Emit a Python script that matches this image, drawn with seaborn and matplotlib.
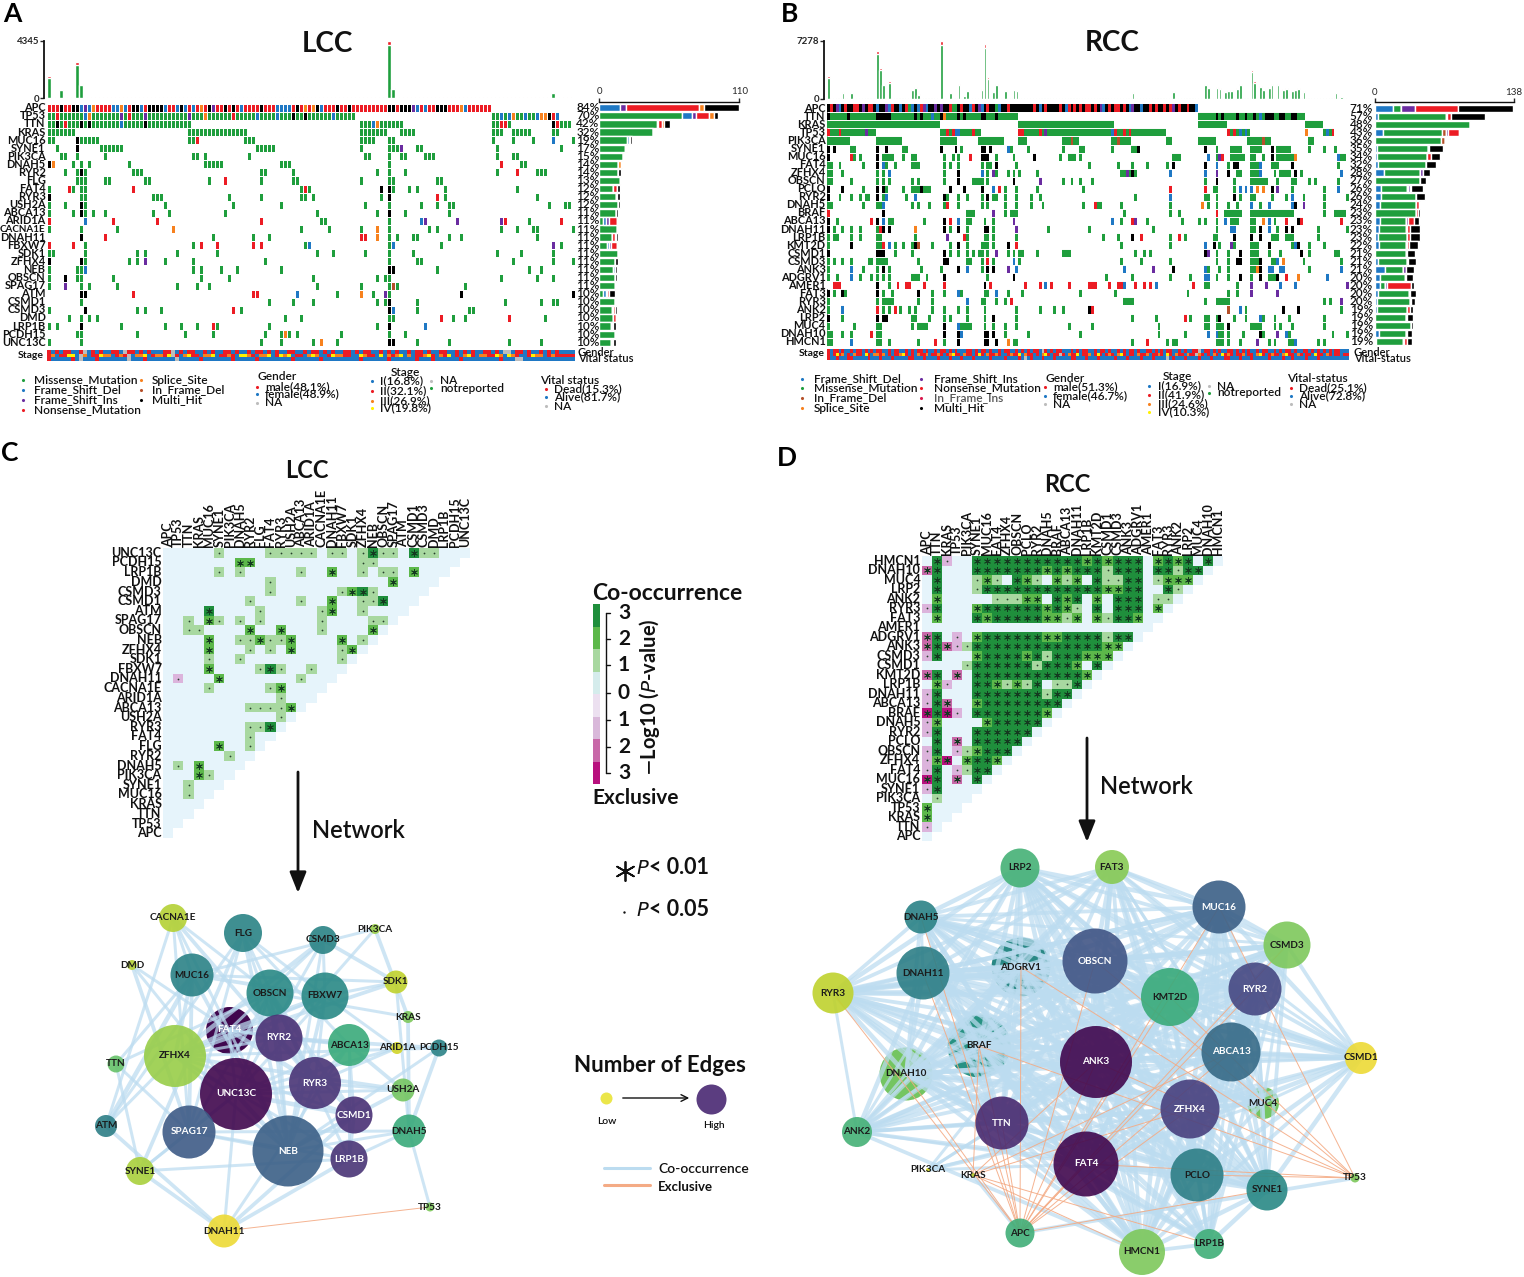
import re
import numpy as np
import seaborn as sns
import matplotlib
matplotlib.use('Agg')
import matplotlib.pyplot as plt
from matplotlib.colors import ListedColormap

sns.set_theme(style='white')
plt.rcParams['font.family'] = ['Lato', 'DejaVu Sans']

W, H = 1524, 1277

# ---- mutation matrices: tokens are col, col-col, colX or col=XYZ (m is default)
lcc_samples = 132
lcc_genes = ['APC', 'TP53', 'TTN', 'KRAS', 'MUC16', 'SYNE1', 'PIK3CA', 'DNAH5', 'RYR2', 'FLG', 'FAT4', 'RYR3',
             'USH2A', 'ABCA13', 'ARID1A', 'CACNA1E', 'DNAH11', 'FBXW7', 'SDK1', 'ZFHX4', 'NEB', 'OBSCN', 'SPAG17',
             'ATM', 'CSMD1', 'CSMD3', 'DMD', 'LRP1B', 'PCDH15', 'UNC13C']
lcc_rows = [
    '0-110n 0=nnnhnnhhdidsnnnnddsdnhhdnhhhhdnndhdndnsnhinnhnhndnnnnhnnnddddnhnsnshdnnnhnnh 77=nnnnnnnnhhnhhhidndnnhhhnnnsdnnnnnn',
    '0-76 2n 9d 10s 18i 20n 24i 35i 39s 46n 52d 57d 61h 64h 71d 111=mmdmdsmmdmmdsshnd',
    '0-35 2h 4n 8h 10h 18d 24h 78-88 81d 82s 111-115 113n 114n 126h 127n 128-130',
    '0-6 35-49 78-84 88-91 111-113 116-120 126-127',
    '0 1 7h 8-12 35 36 37n 49-51 78-81 85 86 111 116 121 126d 131',
    '2 7h 13-18 52-56 78 85-87 88i 92 93 112 128',
    '3 4 7 14 36 37 39 50 79 80 85 88 89 94-96 112 116 117',
    '0h 1s 6 8 10 20 39-43 58-60 85 113n 118 119',
    '4 7 8h 9 21-23 53 54 61 82 85 89 112 117n 122-124',
    '7-9 14 15 24 25 40 44n 53 61 62 78 85 86 97 98',
    '0 5n 6 8 9 21n 63 64n 65 83h 85h 86 90 92 99 117',
    '0h 8 9 26-28 45 53 63 64 66 83 85h 97n 99 122',
    '0 4 8h 9 29 46 58 79 85 93 97 100 101 125 129 130',
    '0 6 8h 9 11 14 26 30 44 67 82 85h 89 100',
    '0n 9d 16n 27n 53n 68 69 85 93d 94i 102i 113i 114n 120 128n',
    '0 8 17 31s 63 70 78 82s 85 95 97 113 117 121 122 131',
    '8h 14n 41 51 55 78n 79n 82s 85 87 91 92 100 103 122',
    '0n 6n 9 36 38n 42n 51n 53n 64 65d 85 86d 98 126i 128',
    '0 1 9 22 24 32 42 67 71 79 85 91 112 118 126',
    '0h 8h 9 20 22 24i 29 36 54 85 92 93 116 126 131',
    '0 7 8 9d 36 38 43 47 58 85h 86h 97 120 123',
    '0 4h 7 8 16 38 45 66 82 84 85 113 122 126',
    '0 4i 8 10 17 32 37 40 67 78 85 86f 87 104',
    '8h 9h 21n 51n 52n 62d 72 78s 81 84i 85 103h 131h',
    '8 55 61 66 82 84 85h 92 114 123 126 127',
    '0 9h 22 24 28 46n 48 85h 86d 92 105 106',
    '5 8 10 12 59 63 85 86 98n 101 104 115n 124',
    '0 2 8h 18 29 33 37 41n 42 55 82 85h 94d',
    '7 8 22 34 41 54 58 59s 60 62 73 85 89',
    '0 8 53 58 66 68s 72 85h 86h 92 100 115 123',
]
lcc_pct = [84, 70, 42, 32, 19, 17, 15, 14, 14, 13, 12, 12, 12, 11, 11, 11, 11, 11, 11, 11, 11, 11, 11, 10, 10, 10, 10, 10, 10, 10]

rcc_samples = 180
rcc_genes = ['APC', 'TTN', 'KRAS', 'TP53', 'PIK3CA', 'SYNE1', 'MUC16', 'FAT4', 'ZFHX4', 'OBSCN', 'PCLO', 'RYR2', 'DNAH5',
             'BRAF', 'ABCA13', 'DNAH11', 'LRP1B', 'KMT2D', 'CSMD1', 'CSMD3', 'ANK3', 'ADGRV1', 'AMER1', 'FAT3', 'RYR3',
             'ANK2', 'LRP2', 'MUC4', 'DNAH10', 'HMCN1']
rcc_rows = [
    '0-127h 0=hnhidhnhhnnhihnnhdhhidnhhdhnmdhdnidhhihihhnmmhnhhdnhidhnhhmdhhnhhhhhhhhnhdhnh 80=nhdnhnhnhnnhnhidhnhnnhnhdihhdhhnhnhhnhnihnhhnhhd',
    '0-65 0h 7h 17-21h 30h 32h 36d 39h 40s 45h 47h 53h 54h 58h 128-164 134h 136h 141h 144h 147h 149d 151h 152h 153h 156h 157h 160h 161h',
    '0-38 66-98 128-137 165-170',
    '0-16 0n 4n 13i 39-52 41n 43n 44d 45d 50n 66-116 66n 67n 73n 75i 98d 99n 102n 104n 138-145 138n 140n 142d 144d 165s 171-174 172d 174n',
    '0-7 17-25 39-44 52-60 66-68 81-86 84f 98-104 100f 117 118 128-133 145-152 150f 166 167',
    '0h 2h 8 9 17h 20h 26 27 39h 44h 46 53h 54h 56h 62d 63 69 81 87 88 98 105-107 107h 130h 134 139-142 146-149 153h 155-159 166 171 175',
    '0h 8n 9 11 17h 19 20-22 26 29 30 40 43 45 49n 53h 54h 55h 58 64 71h 80 83-85 87 119-121 131d 134 135i 136n 139-143 146 147 150 153h 155-160 161s 176d 177 178',
    '0 1 4 12 17h 19d 20 23 29-31 40 42 45 53 55 56 58h 65 90 100 105 110 117 119h 130h 134d 138 140h 141h 146-148 149d 153-155 160h 176',
    '0 1 5 17 19 21d 40 45h 53d 55 57i 58 62 64 66 72 101-106 103i 105h 118d 130d 134i 138h 141 142 146-149 149d 154 156-159 161h 163 177d',
    '0 1 8 17 19 21 29 31 40 45h 50-52 53 55 64h 73i 81 84 87 91 130 134h 140 146-151 155 160 161 166 168 176',
    '0h 5h 12 17h 19h 20 26 29-31 32h 33-35 42h 47h 53h 57d 59n 61 65 72 88 118n 130n 133 134 140 142d 144d 146d 148s 150s 153h 155i 160 171 176d',
    '0h 4 8 11 13 14 17h 19 20d 27 30d 40h 41 45 48 53 55h 57 58 61 65 70 73 106 118d 130 131 134 140h 142 146 147 153 158 160d 164 171 179 180',
    '0 1 12 17 18 19d 29 31 35 40 41n 45 53 55 61 65 70 74 88 92n 93 94 101 118 129s 131 134 138 141 146d 149 152d 160d 161h 164i 171',
    '0n 19h 48-50 57i 61 63-65 102 118 121 134n 137-142 146-160 171 175-178',
    '0h 3 15n 17h 19d 21 22 33 40h 42n 45d 48 49 54 57 64i 98d 101 105n 106i 110 122 128 130 134 137d 139-141 146 147 150s 152d 154 158n 162h 163n 177n',
    '0h 2 5 8 11 17 18n 19h 21h 30s 40h 42 45h 48 54h 55h 57 65i 76 90 112 134 139d 140d 146 147 149h 152d 155 158h 160h 169 179',
    '0 2 3 8 11 17 18 30 41i 47n 48 54 55 57 65 95 100 105h 108n 118 121n 123 133 134 140h 146h 149h 153-155 158-160 169',
    '0 8h 17 18 19n 21d 23 26 29 30h 31f 36 42 45h 48 53-55 57 62h 65n 101 118 130d 133h 135 139i 140 146-148 152h 160 161d 162h 166 171',
    '0h 17h 18h 19h 23 29 40h 42 45 48 50 52 53 55 58i 62 64 66 67 72 82 83 81 106 109 111 130h 131i 134 138 142h 146-148 152 156 163h 166 175 176',
    '0 2 5 8 14 15 17-20 31 40h 41h 48 49 53 55n 57 64d 66 101 108 118 134 138 141h 142h 146-149 149h 153 154 155d 157s 164 177',
    '0 8d 12 17 19h 21 32 39 45h 48d 53 55h 57h 62i 65d 102d 112i 119h 130d 131 135 138 146-149 148s 149h 152d 153d 156d 157d 166 177d',
    '0 3 8d 11 15 17 19 21 29-31 34 40h 55 64h 96 105 118 125 130d 131d 134 138 142h 146 149h 152-155 155h 158n 162s 172d',
    '2n 3n 4n 17h 21 24n 27n 28n 33n 40n 54h 56n 68n 73n 75d 77n 83n 90n 91n 92n 97n 100n 101n 102d 106n 109n 111n 113d 126n 130 131 141 146i 151i 156d 161d 179i',
    '0h 2 5h 6 17h 19 22 31h 36 40 45d 46 54 55 58d 62 67 87 99 124 138 141 146i 155i',
    '0 17 19-22 31 36 48d 53 54 58 61 63n 102-105 130 134-138 171 173 177i',
    '0 5d 17n 19 21 23n 25 28 30 36 40 45 48 54 65 73 78 81 90h 91n 138f 142d 144 157h 162h 177',
    '0h 5 17h 19h 20h 29 30 35 40 42 48 54 57h 65 105 113 123n 125 130 131 134 135h 140 144 149d 150 154 159 171',
    '0 9 17 18 29 31-34 40h 45d 46-49 54 57 61 65 83 91 114 130 131 134-136 138h 146-149 154 156 160 171',
    '0 1 5 8 15n 17 18 40h 45h 46d 54h 55h 57h 61 69 87 114 123 131d 134d 135 136 138 143 149h 150 155i 158d 159 174 179',
    '0 1 8d 17 18 21 31 37n 40 45h 54h 55h 58h 62s 64 65 105 110n 117 119 120 134-136 138 142 148i 152 154 159-161 161d 169 171',
]
rcc_pct = [71, 57, 48, 43, 36, 35, 34, 32, 28, 27, 26, 26, 24, 23, 23, 23, 23, 22, 21, 21, 21, 20, 20, 20, 20, 19, 19, 19, 19, 19]

# tumor burden peaks (column: total mutations), everything else sits at the baseline
lcc_tmb = {0: 1650, 3: 650, 7: 2700, 8: 1090, 85: 4345, 86: 740, 126: 390, 40: 60, 112: 60}
rcc_tmb = {0: 2840, 5: 800, 8: 730, 17: 6040, 18: 3860, 19: 1820, 21: 2180, 29: 1160, 30: 1460, 31: 580, 39: 7278,
           42: 730, 45: 1820, 47: 400, 48: 1090, 53: 1240, 54: 6910, 55: 2690, 57: 870, 58: 1820, 61: 1090, 64: 1160,
           65: 1020, 105: 800, 119: 950, 130: 1820, 131: 1400, 134: 1460, 135: 1380, 137: 900, 138: 1050, 139: 1050,
           141: 1380, 142: 1890, 146: 3570, 147: 2180, 149: 1600, 150: 1240, 152: 1500, 153: 1820, 155: 1820, 157: 1240,
           158: 1380, 160: 1000, 161: 1160, 162: 1380, 164: 950, 175: 750, 177: 250}

# side bars, one list per variant class
lcc_side = {
    'm': [0, 65, 45, 42, 22, 20, 19, 15, 15, 16, 11, 13, 15, 13, 3, 14, 10, 6, 15, 12, 11, 12.5, 12, 3, 12, 10, 11, 9, 12, 9],
    'd': [16, 8, 1.5, 0, 1, 0, 0, 0, 0, 0, 0, 0, 0, 0, 2, 0, 0, 2, 0, 0, 1, 0, 0, 2, 0, 0, 0, 0, 0, 0],
    'i': [5, 3, 0, 0, 0.5, 1, 0, 0, 0, 0, 0, 0, 0, 0, 3, 0, 0, 1, 0, 0, 0, 0, 0, 1, 0, 1, 0, 1, 0, 0],
    'n': [57, 10, 3, 0, 1, 0, 0, 0, 0, 1, 3, 1, 0, 0, 6, 0, 2, 5, 0, 0, 0, 0, 1, 2, 0, 1, 2, 1, 0, 1],
    's': [4, 4, 1, 0, 0, 0, 0, 2, 0, 0, 0, 0, 0, 0, 0, 1, 1, 0, 0, 0, 0, 0, 1, 0, 0, 0, 0, 0, 1, 1],
    'h': [28, 3, 5, 0, 1, 1, 0, 1, 2, 0, 2, 2, 1, 2, 0, 0, 2, 0, 0, 3, 2, 1.5, 0, 4, 1, 2, 0, 2, 0, 2],
}
rcc_side = {
    'd': [18, 2.5, 0, 8, 0, 2, 2, 3, 9, 0, 6, 6, 5, 0, 5, 4, 3, 4, 0, 3, 10, 5, 5, 3, 2, 2, 0, 0, 4, 1],
    'm': [8, 68, 94, 59, 66, 51, 50, 48, 36, 45, 26, 35, 36, 41, 26, 27, 29, 27, 31, 29, 18, 25, 5, 31, 33, 30, 31, 36, 27, 27],
    'f': [0, 0, 0, 3, 3, 0, 0, 0, 0, 0, 0, 0, 0, 0, 0, 0, 0, 0, 0, 0, 0, 0, 0, 0, 0, 0, 0, 0, 0, 0],
    's': [0, 1, 0, 0, 0, 0, 0, 0, 0, 0, 1, 0, 0, 0, 0, 1, 0, 0, 0, 0, 0, 1, 0, 0, 0, 0, 0, 0, 0, 1],
    'i': [14, 0, 0, 2, 0, 0, 0, 0, 3, 0, 2, 0, 0, 0, 2, 0, 0, 1, 1, 0, 3, 0, 2, 1, 0, 0, 0, 0, 0, 0],
    'n': [42, 4, 0, 11, 0, 1, 4, 0, 0, 0, 1, 0, 3, 2, 6, 3, 3, 2, 0, 1, 0, 0, 24, 0, 1, 3, 1, 0, 1, 3],
    'h': [55, 34, 0, 0, 0, 14, 9, 10, 7, 6, 12, 9, 1, 2, 5, 10, 10, 9, 8, 8, 8, 7, 3, 6, 4, 3, 6, 2, 5, 5],
}

# clinical strips
lcc_gender = 'mfmfmmffmNfmfmffmmfNmmfmfmfffmmNfmfmmffmfmffmmfmffmfmmfmfmffmmffmfmmfmfmffmmfmfmmffmfmfmffmfmmfmffmmffmfmfmffmmfmfNNfmmfmffmfmfm'
lcc_stage = '23122441N31224331232N1334123324N21342213341223214432133412434122134311243322114322141323413122342132412134213322431432112433123'
lcc_vital = 'DAAAAADANAAADAAAAAAANAAADAAAAAAANAAAAADAAAAAAADAAAAADAAAAAAAADAAAAAADAAAAAAAAADAAAAAADAAAAAADAAADAAAAAADAAAAAAAAADAAANNAAAAAAAAA'
rcc_gender = 'mfmmfmffmfmmfmfmfmmffmfmmffmfmfmmfmffmfmmfmfmfffmmfmfmmfmffmfmmffmfmfmfmmfNmfmfmmfffmfmfmmffmfmmfmffmfmfmmfmffmmfmfmfmmffmfmffmmNfmmfmfmffmmfmfmfmffmfmmffmfmfmmfmffmmfmfmfmfmfmm'
rcc_stage = '21242312132214213323121223421213223122321234221322124213223211232241322121342122N2132241223124212321342122132231223214213221322N32121321423212231221342123221342213212214221321221'
rcc_vital = 'DAADAAADDAAAAADAAADAAADAAAAADDAAADAAAADAAADAAADAAADAAAAADAAAADAAAADANADAAADAAADAAAAADDAAADAAADAAAAADAAADAAAADAAADAAAANADAAADAAAADAAADAAAADDAAADAAADAAAAADAAAADAADAAAADAAAD'

# ---- co-occurrence cells: value is signed -log10(p), positive is co-occurrence
lcc_sig = {
    'UNC13C': {5: 1, 10: 1, 11: 1, 12: 1, 13: 1, 14: 1, 16: 1, 17: 1, 19: 1, 20: 3, 21: 1, 22: 1, 24: 3, 25: 1, 26: 1},
    'PCDH15': {7: 2, 8: 2, 19: 1, 20: 1},
    'LRP1B': {5: 1, 7: 1, 13: 1, 16: 2, 19: 1, 21: 1, 22: 1, 24: 2},
    'DMD': {10: 1, 22: 2},
    'CSMD3': {10: 1, 17: 1, 18: 2, 19: 3, 20: 1},
    'CSMD1': {8: 1, 13: 1, 16: 2, 19: 1, 20: 1, 21: 3},
    'ATM': {4: 3, 9: 1, 15: 1, 16: 2, 19: 1},
    'SPAG17': {2: 1, 4: 2, 5: 1, 7: 1, 9: 1, 15: 1, 20: 1, 21: 1},
    'OBSCN': {2: 1, 3: 1, 8: 2, 11: 2, 15: 1, 20: 2},
    'NEB': {4: 2, 7: 1, 8: 1, 9: 2, 10: 1, 11: 1, 12: 2, 17: 2, 19: 1},
    'ZFHX4': {4: 2, 8: 1, 10: 1, 12: 2, 17: 1, 18: 2},
    'SDK1': {4: 1, 7: 1, 17: 1},
    'FBXW7': {4: 2, 9: 1, 10: 3, 11: 1, 14: 1},
    'DNAH11': {1: -1, 5: 2, 13: 1},
    'CACNA1E': {4: 1, 10: 1, 11: 2},
    'ARID1A': {11: 1},
    'ABCA13': {8: 1, 9: 1, 10: 1, 11: 1, 12: 2},
    'USH2A': {11: 1},
    'RYR3': {8: 1, 9: 1, 10: 3},
    'FAT4': {8: 1},
    'FLG': {5: 2, 8: 1},
    'RYR2': {6: 1},
    'DNAH5': {1: 1, 3: 2},
    'PIK3CA': {3: 2, 4: 1},
    'SYNE1': {2: 1},
    'MUC16': {2: 1},
}
# one string per row, top row first; a, b, c are exclusive 1, 2, 3
rcc_sig = [
    '03a00 33333333333 2 3 2 333 0 2323 0 3 0',
    'b3000 3333333 2 3 2 333 1 333 0 33 1 33 0',
    '03000 1210 321 0 212 0 3 11 33 0 1222 0',
    '03000 1 333333333333 22 33 00 31 0',
    '02000 00 111 22 0 323 0 2 0 333 0 11 0',
    'a3000 2333333 2 3 2 1 0 3 0 333 0 2 0',
    '02000 32 33333 2 2 1 2 0 2 1 33 2 00',
    '0',
    'b30a0 2333333 22 3333 1 33 0',
    'b3ba1 3333333333333 22 0',
    'a3000 2 3333 2 3 1 3 33 222 0',
    '00001 333333 1 333 2 0 3 0',
    'b30b0 33333333333 2 0',
    '02a00 33 21 21 3 0 11 3 0',
    'a3000 3333333 1 33 0',
    'a3b00 2 33333333 0',
    'c3ca0 3333333 2 0',
    'a2000 0 2 33333 0',
    'a3000 333333 0',
    '030b0 33333 0',
    'a30a1 2333 0',
    'a2c02 332 0',
    'a30a1 33 0',
    'c30b0 30',
    'a30000',
    '01000',
    '2000',
    '200',
    'a0',
    '0',
]

# ---- network nodes: name, x, y, diameter and colour rank (0 many edges, 1 few edges)
lcc_nodes = ['CACNA1E', 'FLG', 'CSMD3', 'PIK3CA', 'DMD', 'MUC16', 'OBSCN', 'FBXW7', 'SDK1', 'KRAS', 'FAT4', 'RYR2', 'ABCA13',
             'ARID1A', 'PCDH15', 'ZFHX4', 'TTN', 'UNC13C', 'RYR3', 'USH2A', 'CSMD1', 'ATM', 'SPAG17', 'DNAH5', 'NEB', 'LRP1B',
             'SYNE1', 'TP53', 'DNAH11']
lcc_x = [173, 243, 323, 375, 132, 192, 270, 325, 396, 408, 229, 279, 349, 397, 439, 175, 116, 236, 315, 403, 354, 106, 189, 409, 288, 349, 140, 430, 224]
lcc_y = [918, 933, 940, 929, 965, 975, 993, 996, 982, 1017, 1030, 1038, 1045, 1048, 1048, 1056, 1064, 1094, 1083, 1090, 1115, 1126, 1132, 1131, 1151, 1159, 1171, 1207, 1231]
lcc_d = [28, 38, 28, 10, 10, 43, 47, 47, 23, 12, 47, 47, 42, 12, 17, 62, 17, 72, 52, 23, 37, 22, 53, 33, 71, 37, 28, 9, 33]
lcc_rank = [.9, .48, .48, .85, .9, .47, .5, .5, .92, .8, 0, .12, .65, .95, .47, .85, .75, 0, .13, .78, .12, .45, .28, .65, .3, .13, .88, .8, 1]
lcc_under = ['FAT4']

rcc_nodes = ['LRP2', 'FAT3', 'MUC16', 'DNAH5', 'CSMD3', 'OBSCN', 'ADGRV1', 'DNAH11', 'RYR3', 'KMT2D', 'RYR2', 'BRAF', 'ABCA13', 'ANK3',
             'CSMD1', 'DNAH10', 'MUC4', 'ZFHX4', 'TTN', 'ANK2', 'FAT4', 'PCLO', 'SYNE1', 'PIK3CA', 'KRAS', 'TP53', 'APC', 'HMCN1', 'LRP1B']
rcc_x = [1020, 1112, 1219, 921, 1287, 1095, 1021, 923, 833, 1170, 1255, 979, 1231, 1096, 1361, 906, 1263, 1190, 1002, 857, 1086, 1197, 1267, 928, 973, 1355, 1020, 1142, 1209]
rcc_y = [868, 867, 907, 917, 945, 961, 967, 973, 993, 997, 989, 1046, 1052, 1062, 1058, 1074, 1103, 1109, 1123, 1132, 1164, 1175, 1190, 1170, 1175, 1178, 1233, 1252, 1244]
rcc_d = [39, 34, 53, 33, 47, 65, 59, 53, 41, 58, 53, 63, 59, 72, 32, 53, 32, 59, 53, 30, 65, 53, 41, 4, 4, 9, 29, 46, 30]
rcc_rank = [.68, .82, .3, .47, .8, .25, .5, .45, .92, .65, .2, .55, .35, 0, 1, .78, .78, .17, .1, .68, 0, .45, .5, .95, .9, .8, .67, .8, .67]
rcc_under = ['BRAF', 'ADGRV1', 'DNAH10', 'MUC4']

variant_colors = {'m': '#1f9e3d', 'd': '#1f78c4', 'i': '#6a2ca0', 'n': '#ec1c24', 's': '#f7811e',
                  'f': '#b5502a', 't': '#d9184e', 'h': '#000000'}
sig_colors = ['#b8107e', '#c868a8', '#dcb4dc', '#e6f4fb', '#a8d8a0', '#5cb84a', '#1f8f3c']
sig_codes = {'0': 0, '1': 1, '2': 2, '3': 3, 'a': -1, 'b': -2, 'c': -3}
clinical_colors = {'m': 'r', 'f': 'b', 'D': 'r', 'A': 'b', 'N': 'g', '1': 'b', '2': 'r', '3': 'o', '4': 'y'}
clinical_rgb = ['#ec1c24', '#1f78c4', '#f7811e', '#fff200', '#bdbdbd']

fig = plt.figure(figsize=(W / 100, H / 100), dpi=100)


def px_axes(x0, y0, x1, y1):
    ax = fig.add_axes([x0 / W, 1 - y1 / H, (x1 - x0) / W, (y1 - y0) / H])
    ax.patch.set_visible(False)
    return ax


canvas = px_axes(0, 0, W, H)
canvas.set_zorder(10)
canvas.set_xlim(0, W)
canvas.set_ylim(H, 0)
canvas.axis('off')


def parse_row(row, n):
    out = np.zeros(n, dtype=int)
    keys = list(variant_colors)
    for tok in row.split():
        if '=' in tok:
            start, seq = tok.split('=')
            for k, ch in enumerate(seq):
                if int(start) + k < n:
                    out[int(start) + k] = keys.index(ch) + 1
            continue
        a, b, t = re.fullmatch(r'(\d+)(?:-(\d+))?([a-z]?)', tok).groups()
        b = b or a
        out[int(a):min(int(b), n - 1) + 1] = keys.index(t or 'm') + 1
    return out


def oncoplot(genes, rows, n, pct, tmb, side, side_max, ymax, box, tmb_top, side_box, baseline, gender, stage, vital, clin_y, grid):
    x0, y0, x1, y1 = box
    mat = np.array([parse_row(r, n) for r in rows])
    ax = px_axes(x0, y0, x1, y1)
    sns.heatmap(mat, ax=ax, cmap=ListedColormap(['#ffffff'] + list(variant_colors.values())), vmin=-0.5, vmax=8.5,
                cbar=False, linewidths=grid, linecolor='white', xticklabels=False, yticklabels=genes)
    if grid == 0:
        ax.hlines(np.arange(1, len(genes)), 0, n, color='white', lw=0.7)
    ax.tick_params(axis='y', length=0, pad=1, labelsize=7.9, rotation=0)
    for lab in ax.get_yticklabels():
        lab.set_fontweight('bold')
        lab.set_color('#111111')
        # the longest name has to fit in the left margin
        if len(lab.get_text()) > 6:
            lab.set_fontsize(7.1)
    for i, p in enumerate(pct):
        ax.text(n + 0.3, i + 0.5, f'{p}%', fontsize=8.5, va='center', ha='left', color='#111111', clip_on=False,
                fontweight='semibold')

    # tumor burden on top
    top = px_axes(x0, tmb_top, x1, y0 - 5.5)
    total = np.full(n, baseline, dtype=float)
    for k, v in tmb.items():
        total[k] = v
    sns.barplot(x=np.arange(n), y=total, color='#ec1c24', saturation=1, width=0.9, ax=top)
    sns.barplot(x=np.arange(n), y=total * 0.93, color='#1f9e3d', saturation=1, width=0.9, ax=top)
    top.set_xlim(-0.5, n - 0.5)
    top.set_ylim(0, ymax)
    top.set_xticks([])
    top.set_xlabel('')
    top.set_yticks([0, ymax])
    top.set_yticklabels(['0', str(ymax)])
    sns.despine(ax=top, bottom=True, right=True, top=True, offset={'left': 2})
    top.tick_params(axis='y', length=3, width=1, pad=0.5, left=True, labelsize=7)
    plt.setp(top.get_yticklabels(), fontweight='bold')
    top.spines['left'].set_linewidth(1.3)
    top.spines['left'].set_color('#111111')

    # side bars
    sx = px_axes(side_box[0], y0, side_box[1], y1)
    left = np.zeros(len(genes))
    for key, vals in side.items():
        sx.barh(np.arange(len(genes)), vals, left=left, height=0.9, color=variant_colors[key])
        left += np.array(vals)
    sx.set_xlim(0, side_max)
    sx.set_ylim(len(genes) - 0.5, -0.5)
    sx.set_yticks([])
    sx.set_xticks([0, side_max])
    sx.set_xticklabels(['0', str(side_max)])
    sns.despine(ax=sx, left=True, right=True, bottom=True, top=False)
    sx.xaxis.tick_top()
    sx.tick_params(axis='x', length=3, width=1, pad=1, top=True, labelsize=7)
    plt.setp(sx.get_xticklabels(), fontweight='bold')
    sx.spines['top'].set_position(('outward', 1.5))
    sx.spines['top'].set_color('#111111')
    sx.spines['top'].set_linewidth(1)

    # clinical strips
    clin = px_axes(x0, clin_y, x1, clin_y + 10.5)
    strip = []
    for s, fill in ((gender, 'f'), (stage, '2'), (vital, 'A')):
        s = s[:n].ljust(n, fill)
        strip.append(['rboyg'.index(clinical_colors[c]) for c in s])
    sns.heatmap(np.array(strip), ax=clin, cmap=ListedColormap(clinical_rgb), vmin=-0.5, vmax=4.5, cbar=False,
                linewidths=0, xticklabels=False, yticklabels=False)


oncoplot(lcc_genes, lcc_rows, lcc_samples, lcc_pct, lcc_tmb, lcc_side, 110, 4345, (47, 103.7, 575, 346.3), 40.7,
         (599.3, 739.3), 55, lcc_gender, lcc_stage, lcc_vital, 350, 0.45)
oncoplot(rcc_genes, rcc_rows, rcc_samples, rcc_pct, rcc_tmb, rcc_side, 138, 7278, (827, 104.3, 1349, 345.7), 41,
         (1375, 1514), 70, rcc_gender, rcc_stage, rcc_vital, 349, 0)


def sig_matrix_lcc():
    n = len(lcc_genes)
    mat = np.zeros((n, n))
    for gene, cells in lcc_sig.items():
        r = n - 1 - lcc_genes.index(gene)
        for c, v in cells.items():
            mat[r, c] = v
    return mat


def sig_matrix_rcc():
    n = len(rcc_genes)
    mat = np.zeros((n, n))
    for r, row in enumerate(rcc_sig):
        for c, ch in enumerate(row.replace(' ', '')[:n - r]):
            mat[r, c] = sig_codes[ch]
    return mat


def sig_heatmap(mat, genes, box, size):
    n = len(genes)
    mask = np.fliplr(np.tril(np.ones((n, n), dtype=bool), -1))
    ax = px_axes(*box)
    sns.heatmap(mat, mask=mask, ax=ax, cmap=ListedColormap(sig_colors), vmin=-3.5, vmax=3.5, cbar=False,
                linewidths=0, xticklabels=genes, yticklabels=genes[::-1])
    ax.xaxis.tick_top()
    ax.tick_params(axis='both', length=0, pad=1, labelsize=size)
    plt.setp(ax.get_xticklabels(), rotation=90, ha='center', va='bottom', fontweight='bold', color='#111111')
    plt.setp(ax.get_yticklabels(), rotation=0, fontweight='bold', color='#111111')
    rr, cc = np.where((np.abs(mat) >= 2) & ~mask)
    ax.scatter(cc + 0.5, rr + 0.5, marker=(6, 2, 0), s=20, linewidths=0.6, color='#143a20', zorder=3)
    rr, cc = np.where((np.abs(mat) == 1) & ~mask)
    ax.scatter(cc + 0.5, rr + 0.5, marker='o', s=1.6, color='#26402c', linewidths=0, zorder=3)


lcc_mat = sig_matrix_lcc()
rcc_mat = sig_matrix_rcc()
sig_heatmap(lcc_mat, lcc_genes, (163, 548, 470, 838), 9)
sig_heatmap(rcc_mat, rcc_genes, (921.7, 556, 1223, 841), 9)


def network(mat, genes, nodes, xs, ys, ds, ranks, under, lw_scale):
    n = len(genes)
    pos = {g: (x, y) for g, x, y in zip(nodes, xs, ys)}
    for r in range(n):
        for c in range(n - r):
            v = mat[r, c]
            a, b = genes[n - 1 - r], genes[c]
            if v == 0 or a not in pos or b not in pos:
                continue
            xy = np.array([pos[a], pos[b]])
            if v > 0:
                canvas.plot(xy[:, 0], xy[:, 1], color='#bcdcf0', alpha=0.72, lw=lw_scale * (1 + 0.35 * v), zorder=2,
                            solid_capstyle='butt')
            else:
                canvas.plot(xy[:, 0], xy[:, 1], color='#f4ab85', alpha=0.9, lw=0.7, zorder=2.5)
    cmap = sns.color_palette('viridis', as_cmap=True)
    sizes = (np.array(ds) * 0.72) ** 2
    colors = [sns.desaturate(cmap(float(t))[:3], 0.85) for t in ranks]
    flag = np.array([g in under for g in nodes])
    xs, ys = np.array(xs), np.array(ys)
    colors = np.array(colors)
    # a few nodes sit below the edges in the original drawing
    sns.scatterplot(x=xs[flag], y=ys[flag], s=sizes[flag], c=colors[flag], linewidth=0, ax=canvas, zorder=1, legend=False)
    sns.scatterplot(x=xs[~flag], y=ys[~flag], s=sizes[~flag], c=colors[~flag], alpha=0.9, linewidth=0, ax=canvas, zorder=3, legend=False)
    for g, x, y, t in zip(nodes, xs, ys, ranks):
        canvas.text(x, y, g, fontsize=7.2, ha='center', va='center', fontweight='bold', zorder=4,
                    color='white' if t < 0.36 else '#1b1b1b')


network(lcc_mat, lcc_genes, lcc_nodes, lcc_x, lcc_y, lcc_d, lcc_rank, lcc_under, 1.6)
network(rcc_mat, rcc_genes, rcc_nodes, rcc_x, rcc_y, rcc_d, rcc_rank, rcc_under, 1.6)
canvas.set_xlim(0, W)
canvas.set_ylim(H, 0)
canvas.set_xlabel('')
canvas.set_ylabel('')


def label(x, y, s, size=8.6, weight='semibold', ha='left', color='#111111', **kw):
    canvas.text(x, y, s, fontsize=size, fontweight=weight, ha=ha, va='center', color=color, zorder=5, **kw)


def dot(x, y, color, s=5):
    canvas.scatter([x], [y], s=s, color=color, linewidths=0, zorder=5)


# panel letters and titles
for x, y, s in ((12, 14, 'A'), (790, 14, 'B'), (10, 453, 'C'), (787, 458, 'D')):
    label(x, y, s, size=19, weight='bold', ha='center', color='black')
label(327, 44, 'LCC', size=20, weight='bold', ha='center')
label(1112, 43, 'RCC', size=20, weight='bold', ha='center')
label(307, 470, 'LCC', size=17, weight='bold', ha='center')
label(1067, 485, 'RCC', size=17, weight='bold', ha='center')

# clinical labels
label(44, 355, 'Stage', size=7.5, weight='bold', ha='right')
label(825, 354, 'Stage', size=7.5, weight='bold', ha='right')
label(578, 353, 'Gender', size=8)
label(578, 359, 'Vital status', size=8)
label(1354, 352, 'Gender', size=8)
label(1354, 358, 'Vital-status', size=8)

# variant legend panel A
for s, y, c in (('Missense_Mutation', 380, 'm'), ('Frame_Shift_Del', 390, 'd'), ('Frame_Shift_Ins', 400, 'i'), ('Nonsense_Mutation', 410, 'n')):
    dot(23, y, variant_colors[c])
    label(34, y, s)
for s, y, c in (('Splice_Site', 380, 's'), ('In_Frame_Del', 390, 'f'), ('Multi_Hit', 400, 'h')):
    dot(141, y, variant_colors[c])
    label(152, y, s)
label(257, 377, 'Gender')
for s, y, c in (('male(48.1%)', 387, '#ec1c24'), ('female(48.9%)', 394, '#1f78c4'), ('NA', 403, '#bdbdbd')):
    dot(257, y, c)
    label(265, y, s)
label(391, 373, 'Stage')
for s, y, c in (('I(16.8%)', 381, '#1f78c4'), ('II(32.1%)', 391, '#ec1c24'), ('III(26.9%)', 401, '#f7811e'), ('IV(19.8%)', 408, '#fff200')):
    dot(372, y, c)
    label(380, y, s)
dot(431, 381, '#bdbdbd')
dot(431, 388, '#1f9e3d')
label(440, 380, 'NA')
label(440, 388, 'notreported')
label(540, 380, 'Vital status')
for s, y, c in (('Dead(15.3%)', 389, '#ec1c24'), ('Alive(81.7%)', 397, '#1f78c4'), ('NA', 406, '#bdbdbd')):
    dot(546, y, c)
    label(554, y, s)

# variant legend panel B
for s, y, c in (('Frame_Shift_Del', 379, 'd'), ('Missense_Mutation', 388, 'm'), ('In_Frame_Del', 398, 'f'), ('Splice_Site', 408, 's')):
    dot(802, y, variant_colors[c])
    label(814, y, s)
for s, y, c, tc in (('Frame_Shift_Ins', 379, 'i', '#111111'), ('Nonsense_Mutation', 388, 'n', '#111111'),
                    ('In_Frame_Ins', 398, 't', '#555555'), ('Multi_Hit', 408, 'h', '#111111')):
    dot(921, y, variant_colors[c])
    label(934, y, s, color=tc)
label(1045, 379, 'Gender')
for s, y, c in (('male(51.3%)', 387, '#ec1c24'), ('female(46.7%)', 396, '#1f78c4'), ('NA', 404, '#bdbdbd')):
    dot(1045, y, c)
    label(1053, y, s)
label(1163, 377, 'Stage')
for s, y, c in (('I(16.9%)', 386, '#1f78c4'), ('II(41.9%)', 395, '#ec1c24'), ('III(24.6%)', 404, '#f7811e'), ('IV(10.3%)', 412, '#fff200')):
    dot(1149, y, c)
    label(1158, y, s)
dot(1209, 386, '#bdbdbd')
dot(1209, 393, '#1f9e3d')
label(1217, 386, 'NA')
label(1217, 393, 'notreported')
label(1287, 378, 'Vital-status')
for s, y, c in (('Dead(25.1%)', 388, '#ec1c24'), ('Alive(72.8%)', 396, '#1f78c4'), ('NA', 404, '#bdbdbd')):
    dot(1291, y, c)
    label(1299, y, s)

# arrows down to the networks
for x, y0, y1 in ((298, 772, 893), (1087, 738, 842)):
    canvas.annotate('', xy=(x, y1), xytext=(x, y0), zorder=5,
                    arrowprops=dict(arrowstyle='-|>,head_width=0.42,head_length=1.05', lw=2, color='#111111', shrinkA=0, shrinkB=0))
label(312, 830, 'Network', size=17, weight='semibold')
label(1100, 787, 'Network', size=17, weight='semibold')

# colour key in the middle
label(592, 594, 'Co-occurrence', size=16.5, weight='bold')
key = px_axes(593, 604, 600, 784)
key_vals = np.arange(8)
sns.heatmap(key_vals.reshape(-1, 1), ax=key, cbar=False, xticklabels=False, yticklabels=False,
            cmap=ListedColormap(['#1f8f3c', '#5cb84a', '#a8d8a0', '#d5ecec', '#ece0f0', '#d9b8da', '#c868a8', '#b8107e']))
tick_y = [613, 639, 665, 693, 720, 747, 773]
canvas.plot([606, 606], [tick_y[0], tick_y[-1]], color='#111111', lw=1)
for y, s in zip(tick_y, ['3', '2', '1', '0', '1', '2', '3']):
    canvas.plot([606, 610], [y, y], color='#111111', lw=1)
    label(618, y, s, size=15, weight='bold')
canvas.text(650, 697, r'$-$Log10 ($\mathit{P}$-value)', fontsize=14.5, fontweight='bold', rotation=90, ha='center', va='center', color='#111111')
label(592, 798, 'Exclusive', size=15, weight='bold')
canvas.scatter([625], [871], marker=(6, 2, 0), s=190, linewidths=1.3, color='#111111', zorder=5)
canvas.text(636, 868, r'$\mathit{P}$', fontsize=14, va='center', color='#111111')
label(649, 868, '< 0.01', size=15.5, weight='bold')
canvas.scatter([624], [912], marker='o', s=3, color='#111111', linewidths=0)
canvas.text(636, 910, r'$\mathit{P}$', fontsize=14, va='center', color='#111111')
label(649, 910, '< 0.05', size=15.5, weight='bold')

# edge count key
label(574, 1066, 'Number of Edges', size=16, weight='bold')
canvas.scatter([606], [1098], s=(12 * 0.72) ** 2, color='#ebe64a', linewidths=0)
canvas.scatter([711], [1099], s=(30 * 0.72) ** 2, color='#5b3d80', linewidths=0)
canvas.annotate('', xy=(692, 1098), xytext=(620, 1098), arrowprops=dict(arrowstyle='->', lw=1, color='#111111'))
label(607, 1121, 'Low', size=7.5, ha='center')
label(714, 1125, 'High', size=7.5, ha='center')
canvas.plot([604, 650], [1168, 1168], color='#bcdcf0', lw=2.2)
canvas.plot([604, 650], [1185, 1185], color='#f4ab85', lw=2.2)
label(658, 1169, 'Co-occurrence', size=10)
label(658, 1187, 'Exclusive', size=9.5, weight='bold')

fig.savefig('out.png', dpi=100)
